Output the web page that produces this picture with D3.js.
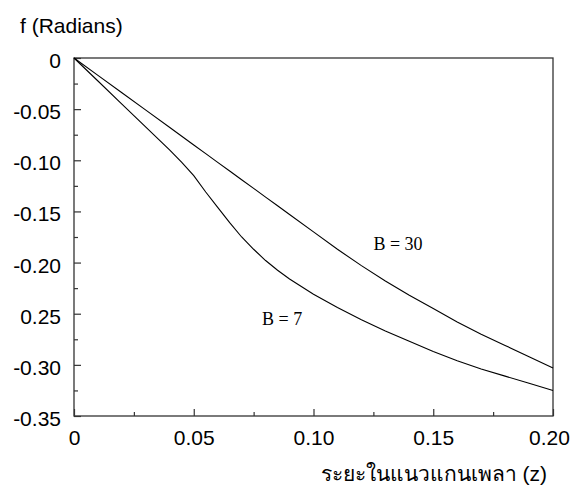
<!DOCTYPE html>
<html>
<head>
<meta charset="utf-8">
<script src="https://cdn.jsdelivr.net/npm/d3@7"></script>
<style>
  body { margin: 0; background: #fff; }
  .tick text { font-family: "Liberation Sans", Arial, sans-serif; font-size: 21px; fill: #000; }
  .note { font-family: "Liberation Serif", "Times New Roman", serif; font-size: 18px; fill: #000; }
</style>
</head>
<body>
<svg id="chart" width="572" height="488"></svg>
<script>
// axial distance z
const zValues = [0, 0.01, 0.02, 0.03, 0.04, 0.045, 0.05, 0.055, 0.06, 0.065, 0.07, 0.075, 0.08, 0.085, 0.09,
                 0.10, 0.11, 0.12, 0.13, 0.14, 0.15, 0.16, 0.17, 0.18, 0.19, 0.20];
// twist angle for B = 30
const twistB30 = [0, -0.017, -0.034, -0.051, -0.068, -0.0765, -0.085, -0.0935, -0.102, -0.1105, -0.119, -0.1275, -0.136, -0.1445, -0.153,
                  -0.170, -0.187, -0.203, -0.218, -0.232, -0.245, -0.258, -0.270, -0.281, -0.292, -0.303];
// twist angle for B = 7
const twistB7 = [0, -0.0225, -0.045, -0.0675, -0.090, -0.102, -0.115, -0.131, -0.146, -0.161, -0.175, -0.187, -0.198, -0.2075, -0.216,
                 -0.231, -0.244, -0.256, -0.267, -0.277, -0.287, -0.296, -0.304, -0.311, -0.318, -0.325];

const xTicks = [0, 0.05, 0.10, 0.15, 0.20];
const xTickLabels = ["0", "0.05", "0.10", "0.15", "0.20"];
const xMinorTicks = [0.025, 0.075, 0.125, 0.175];
const yTicks = [0, -0.05, -0.10, -0.15, -0.20, -0.25, -0.30, -0.35];
const yTickLabels = ["0", "-0.05", "-0.10", "-0.15", "-0.20", "0.25", "-0.30", "-0.35"];
const yMinorTicks = [-0.025, -0.075, -0.125, -0.175, -0.225, -0.275, -0.325];

const curveLabels = [
    {text: "B = 30", z: 0.125, v: -0.1875},
    {text: "B = 7", z: 0.0785, v: -0.261}
];

const plotLeft = 74, plotRight = 553, plotTop = 58, plotBottom = 416;

const svg = d3.select("#chart");

const xScale = d3.scaleLinear().domain([0, 0.2]).range([plotLeft, plotRight]);
const yScale = d3.scaleLinear().domain([0, -0.35]).range([plotTop, plotBottom]);

// frame
svg.append("rect")
    .attr("x", plotLeft)
    .attr("y", plotTop)
    .attr("width", plotRight - plotLeft)
    .attr("height", plotBottom - plotTop)
    .attr("fill", "none")
    .attr("stroke", "#333")
    .attr("stroke-width", 1.3);

// axes, ticks point inward
const xAxisG = svg.append("g")
    .attr("transform", `translate(0,${plotBottom})`)
    .call(d3.axisBottom(xScale).tickValues(xTicks).tickSize(-7).tickPadding(14)
        .tickFormat((d, i) => xTickLabels[i]));
xAxisG.selectAll("text")
    .attr("dy", "0.71em")
    .attr("dx", (d, i) => i === xTicks.length - 1 ? -4 : 0);

svg.append("g")
    .attr("transform", `translate(0,${plotBottom})`)
    .call(d3.axisBottom(xScale).tickValues(xMinorTicks).tickSize(-4).tickFormat(""));

const yAxisG = svg.append("g")
    .attr("transform", `translate(${plotLeft},0)`)
    .call(d3.axisLeft(yScale).tickValues(yTicks).tickSize(-7).tickPadding(13)
        .tickFormat((d, i) => yTickLabels[i]));
yAxisG.selectAll("text").attr("dy", "0.45em");

svg.append("g")
    .attr("transform", `translate(${plotLeft},0)`)
    .call(d3.axisLeft(yScale).tickValues(yMinorTicks).tickSize(-4).tickFormat(""));

svg.selectAll(".domain").remove();
svg.selectAll(".tick line").attr("stroke", "#333").attr("stroke-width", 1.2);

// curves
const line = d3.line()
    .x(d => xScale(d[0]))
    .y(d => yScale(d[1]));

[twistB30, twistB7].forEach(series => {
    svg.append("path")
        .datum(zValues.map((z, i) => [z, series[i]]))
        .attr("d", line)
        .attr("fill", "none")
        .attr("stroke", "#000")
        .attr("stroke-width", 1.1);
});

svg.selectAll(".note")
    .data(curveLabels)
    .join("text")
    .attr("class", "note")
    .attr("x", d => xScale(d.z))
    .attr("y", d => yScale(d.v))
    .text(d => d.text);

// axis titles
svg.append("text")
    .attr("x", 20)
    .attr("y", 33)
    .attr("font-family", "Liberation Sans, Arial, sans-serif")
    .attr("font-size", 21)
    .text("f (Radians)");

svg.append("text")
    .attr("x", 547)
    .attr("y", 481)
    .attr("text-anchor", "end")
    .attr("font-family", "Liberation Sans, Arial, sans-serif")
    .attr("font-size", 21)
    .text("ระยะในแนวแกนเพลา (z)");
</script>
</body>
</html>
